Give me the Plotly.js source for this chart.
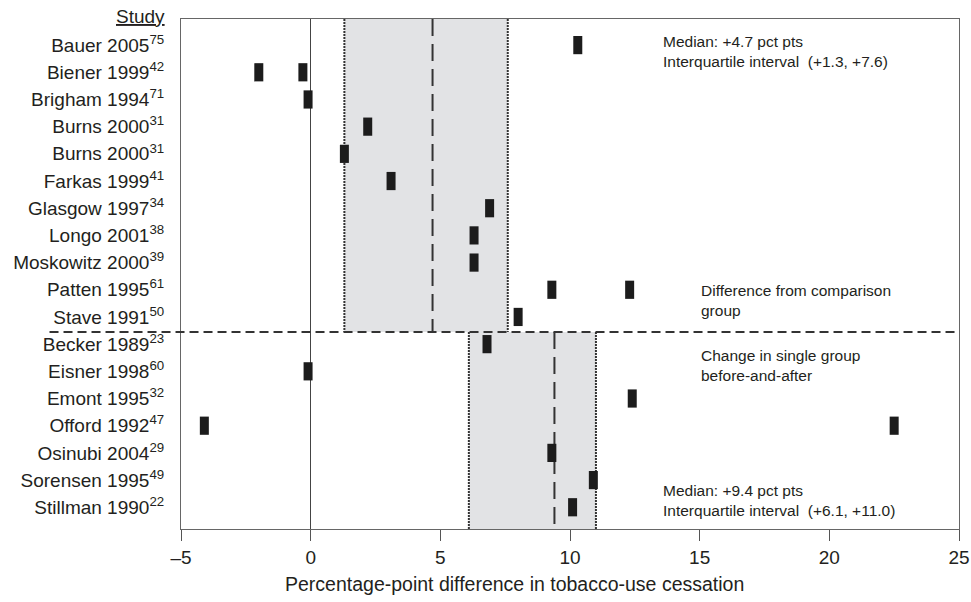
<!DOCTYPE html>
<html>
<head>
<meta charset="utf-8">
<script src="https://cdn.plot.ly/plotly-3.0.1.min.js"></script>
<style>html,body{margin:0;padding:0;background:#fff;}#chart{width:971px;height:602px;}</style>
</head>
<body>
<div id="chart"></div>
<script>
// ---- Data ----
const studies = ["Bauer 2005","Biener 1999","Brigham 1994","Burns 2000","Burns 2000","Farkas 1999","Glasgow 1997","Longo 2001","Moskowitz 2000","Patten 1995","Stave 1991","Becker 1989","Eisner 1998","Emont 1995","Offord 1992","Osinubi 2004","Sorensen 1995","Stillman 1990"];
const refs = ["75","42","71","31","31","41","34","38","39","61","50","23","60","32","47","29","49","22"];
const effectA = [10.3, -2.0, -0.1, 2.2, 1.3, 3.1, 6.9, 6.3, 6.3, 9.3, 8.0, 6.8, -0.1, 12.4, -4.1, 9.3, 10.9, 10.1];
const effectB = [null, -0.3, null, null, null, null, null, null, null, 12.3, null, null, null, null, 22.5, null, null, null];
const groupNames = ["Difference from comparison group", "Change in single group before-and-after"];
const groupMedian = [4.7, 9.4];
const groupQ1 = [1.3, 6.1];
const groupQ3 = [7.6, 11.0];
const xTickVals = [-5, 0, 5, 10, 15, 20, 25];
const xTickLabels = ["\u20135", "0", "5", "10", "15", "20", "25"];

// ---- Build ----
const rows = studies.map((_, i) => i);
const yTickText = studies.map((s, i) => s + "<sup>" + refs[i] + "</sup>");
const markColor = "#1c1c1c";
const txt = "#231f20";
const FONT = "Liberation Sans, Arial, sans-serif";

const bx = [], by = [];
effectB.forEach((v, i) => { if (v !== null) { bx.push(v); by.push(i); } });

const markerStyle = {symbol: "line-ns", size: 13, line: {width: 9, color: markColor}, color: markColor};
const traces = [
  {type: "scatter", mode: "markers", x: effectA, y: rows, marker: markerStyle, hoverinfo: "x+y", showlegend: false, cliponaxis: false},
  {type: "scatter", mode: "markers", x: bx, y: by, marker: markerStyle, hoverinfo: "x+y", showlegend: false, cliponaxis: false}
];

const divider = 10.55;
const yTop = -0.96, yBot = 17.8;
const groupY = [[yTop, divider], [divider, yBot]];
const shapes = [];
for (let g = 0; g < 2; g++) {
  const [y0, y1] = groupY[g];
  shapes.push({type: "rect", xref: "x", yref: "y", x0: groupQ1[g], x1: groupQ3[g], y0: y0, y1: y1,
    fillcolor: "#e2e3e5", line: {width: 0}, layer: "below"});
  [groupQ1[g], groupQ3[g]].forEach(q => shapes.push({type: "line", xref: "x", yref: "y", x0: q, x1: q, y0: y0, y1: y1,
    line: {color: "#333", width: 2, dash: "2px,1px"}, layer: "below"}));
  shapes.push({type: "line", xref: "x", yref: "y", x0: groupMedian[g], x1: groupMedian[g], y0: y0, y1: y1,
    line: {color: "#333", width: 2, dash: "17px,8px"}, layer: "below"});
}
shapes.push({type: "line", xref: "paper", yref: "y", x0: -0.169, x1: 1, y0: divider, y1: divider,
  line: {color: "#333", width: 2, dash: "9px,5px"}});

function fmt(v) { return (v >= 0 ? "+" : "") + v.toFixed(1); }
const annFont = {family: FONT, size: 15.5, color: txt};
const annotations = [
  {xref: "paper", yref: "paper", x: -0.018, y: 1.004, xanchor: "right", yanchor: "middle", showarrow: false,
   text: "<u>Study</u>", font: {family: FONT, size: 19, color: txt}},
  {xref: "paper", yref: "paper", x: 0.617, y: (529 - 51) / 510, xanchor: "left", yanchor: "middle", align: "left", showarrow: false,
   text: "Median: " + fmt(groupMedian[0]) + " pct pts<br>Interquartile interval  (" + fmt(groupQ1[0]) + ", " + fmt(groupQ3[0]) + ")", font: annFont},
  {xref: "paper", yref: "paper", x: 0.666, y: (529 - 300) / 510, xanchor: "left", yanchor: "middle", align: "left", showarrow: false,
   text: "Difference from comparison<br>group", font: annFont},
  {xref: "paper", yref: "paper", x: 0.666, y: (529 - 365) / 510, xanchor: "left", yanchor: "middle", align: "left", showarrow: false,
   text: "Change in single group<br>before-and-after", font: annFont},
  {xref: "paper", yref: "paper", x: 0.617, y: (529 - 500) / 510, xanchor: "left", yanchor: "middle", align: "left", showarrow: false,
   text: "Median: " + fmt(groupMedian[1]) + " pct pts<br>Interquartile interval  (" + fmt(groupQ1[1]) + ", " + fmt(groupQ3[1]) + ")", font: annFont},
  {xref: "paper", yref: "paper", x: (514.5 - 181) / 778, y: -(584 - 529) / 510, xanchor: "center", yanchor: "middle", showarrow: false,
   text: "Percentage-point difference in tobacco-use cessation", font: {family: FONT, size: 19.5, color: txt}}
];

const layout = {
  width: 971, height: 602,
  margin: {l: 181, r: 12, t: 19, b: 73, pad: 0},
  paper_bgcolor: "#fff", plot_bgcolor: "#fff",
  font: {family: FONT, color: txt, size: 19},
  showlegend: false,
  xaxis: {range: [-5, 25], tickvals: xTickVals, ticktext: xTickLabels, ticks: "outside", ticklen: 11, tickcolor: "#555", tickwidth: 1,
    showgrid: false, zeroline: true, zerolinecolor: "#444", zerolinewidth: 1,
    showline: true, linecolor: "#666", linewidth: 1, mirror: true, tickfont: {family: FONT, size: 19, color: txt}, fixedrange: true},
  yaxis: {range: [yBot, yTop], tickvals: rows, ticktext: yTickText, ticks: "", showgrid: false, zeroline: false,
    showline: true, linecolor: "#666", linewidth: 1, mirror: true, ticklabelstandoff: 12,
    tickfont: {family: FONT, size: 19, color: txt}, fixedrange: true},
  shapes: shapes,
  annotations: annotations
};

Plotly.newPlot("chart", traces, layout, {displayModeBar: false, staticPlot: true});
</script>
</body>
</html>
